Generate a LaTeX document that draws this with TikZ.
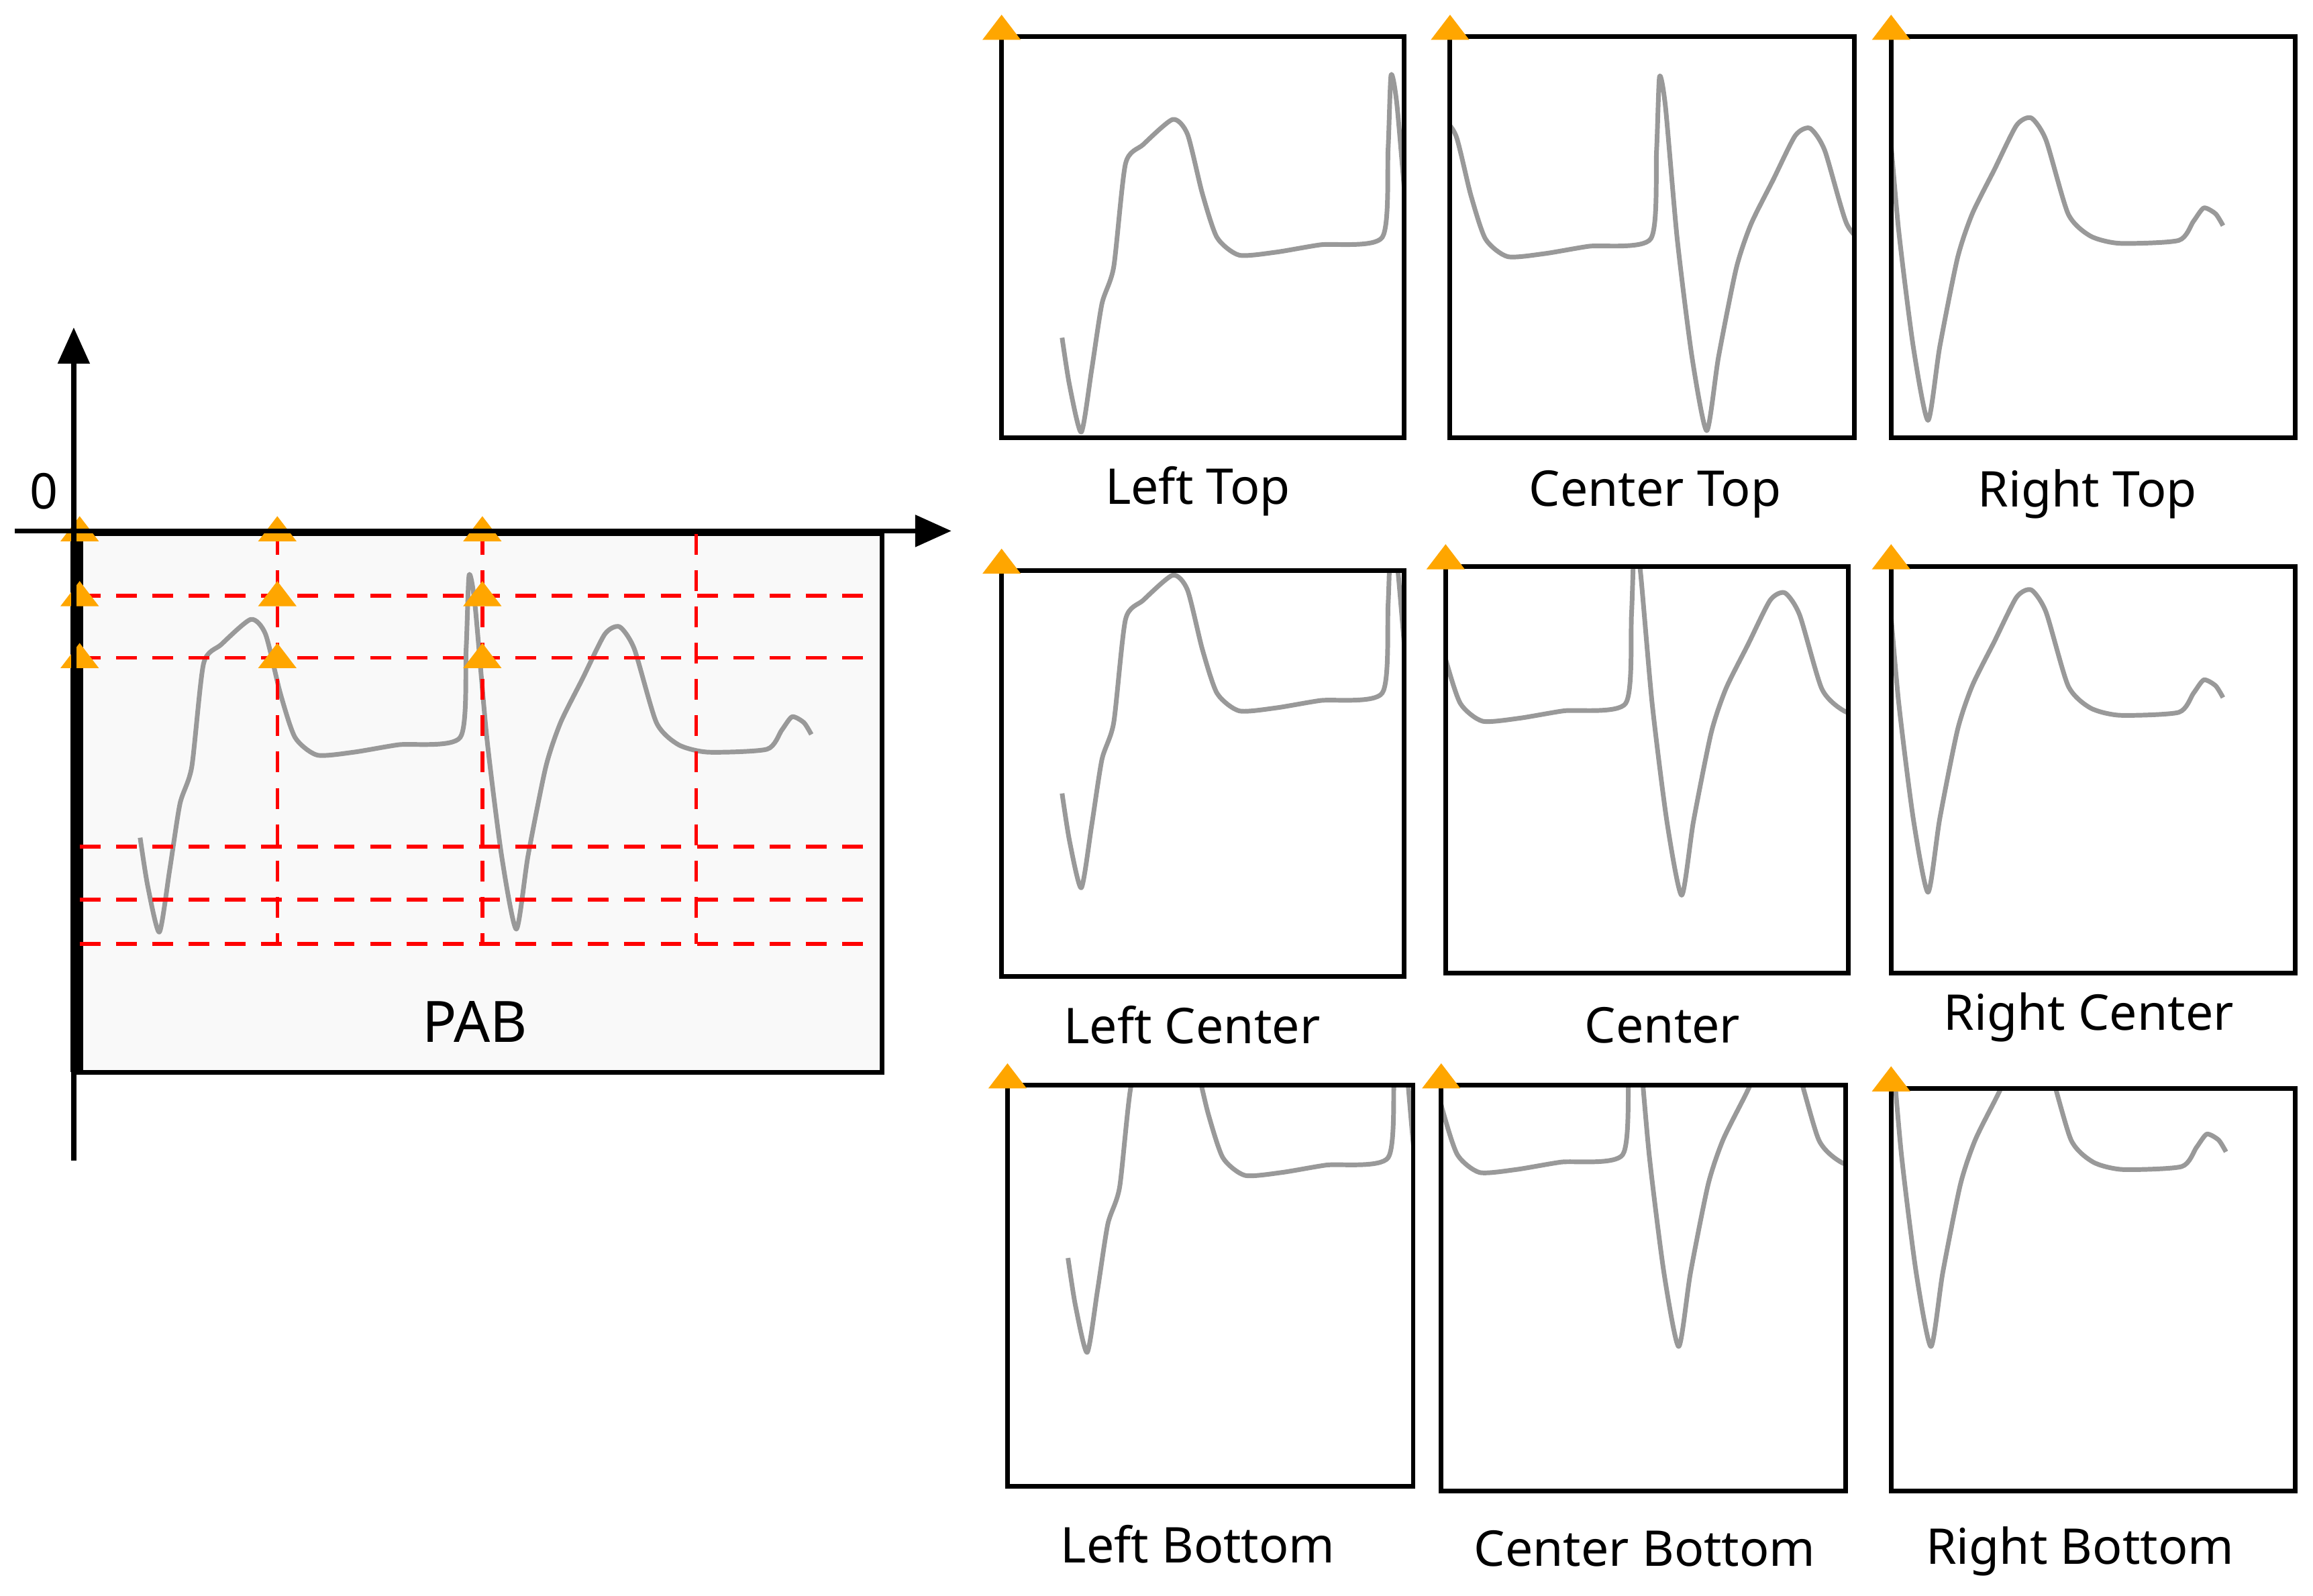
\documentclass[tikz,border=0pt]{standalone}
\usepackage{fontspec}
\setmainfont{Noto Sans}
\usetikzlibrary{arrows.meta}
\begin{document}
\begin{tikzpicture}[x=0.01cm,y=-0.01cm,
  wv/.style={draw=gray!80,line width=0.9pt,line join=round},
  rd/.style={red,dashed,line width=0.7pt,dash pattern=on 4pt off 3pt},
  tri/.style={fill=orange!70!yellow,draw=none},
  box/.style={draw=black,line width=0.9pt},
  lab/.style={font=\fontsize{9.5}{11}\selectfont}]
\useasboundingbox (0,0) rectangle (1568,1082);
\def\wave{plot[smooth,tension=0.4] coordinates{(95,568) (100,600) (108,632) (115,590) (122,545) (130,520) (138,450) (150,437) (170,420) (180,430) (190,470) (200,500) (215,512) (240,510) (270,505) (312,500) (316,440) (318,390) (322,410) (330,500) (340,580) (350,630) (358,580) (370,520) (380,490) (395,460) (410,430) (420,425) (430,440) (445,490) (460,505) (480,510) (520,508) (530,495) (537,486) (545,490) (550,498)}}
\newcommand{\mytri}[2]{\fill[tri] (#1-13,#2+7) -- (#1,#2-10) -- (#1+13,#2+7) -- cycle;}
% PAB
\fill[gray!5] (52,362) rectangle (598,727);
\draw[box] (52,362) rectangle (598,727);
\draw[line width=2.5pt] (52,362) -- (52,727);
\draw[wv] \wave;
\foreach \y in {404,446,574,610,640} \draw[rd] (54,\y) -- (595,\y);
\foreach \x in {188,327,472} \draw[rd] (\x,362) -- (\x,640);
\foreach \x in {54,188,327} \foreach \y in {360,404,446} {\mytri{\x}{\y}}
\draw[-{Triangle[length=7pt,width=6pt]},line width=1pt] (10,360) -- (645,360);
\draw[-{Triangle[length=7pt,width=6pt]},line width=1pt] (50,787) -- (50,222);
\node[lab] (zero) at (30,333) {0};
\node[font=\fontsize{11}{13}\selectfont] (pab) at (322,693) {PAB};
\foreach \a/\b/\c/\d/\dx/\dy/\t/\lx/\ly in {
 679/25/952/297/625/-339/Left Top/812/333,
 983/25/1257/297/807/-338/Center Top/1122/335,
 1282/25/1556/297/957/-345/Right Top/1415/335,
 679/387/952/662/625/-30/Left Center/808/695,
 980/384/1253/660/790/-23/Center/1127/695,
 1282/384/1556/660/957/-25/Right Center/1416/690,
 683/736/958/1008/629/285/Left Bottom/812/1047,
 977/736/1251/1011/788/283/Center Bottom/1115/1050,
 1282/738/1556/1011/959/283/Right Bottom/1410/1052}{
 \begin{scope}
 \clip (\a,\b) rectangle (\c,\d);
 \begin{scope}[shift={(\dx,\dy)}]
 \draw[wv] \wave;
 \end{scope}
 \end{scope}
 \draw[box] (\a,\b) rectangle (\c,\d);
 \mytri{\a}{\b-5}
 \node[lab] at (\lx,\ly) {\t};
}
\end{tikzpicture}
\end{document}
